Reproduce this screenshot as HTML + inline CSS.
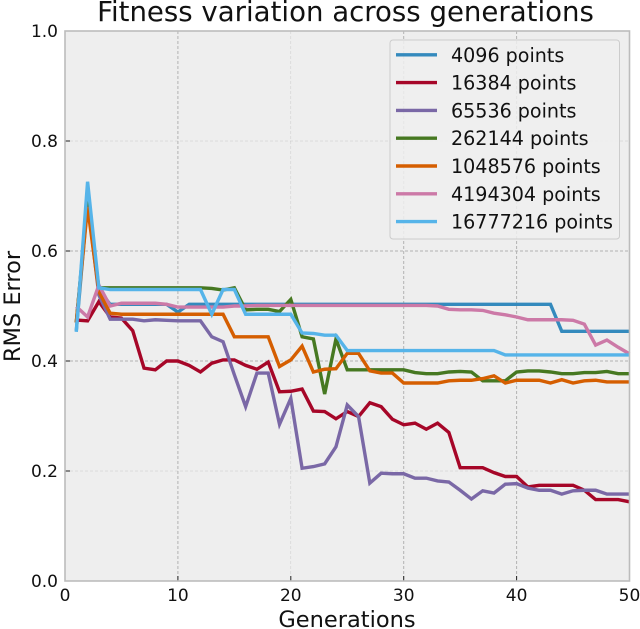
<!DOCTYPE html>
<html>
<head>
<meta charset="utf-8">
<title>Fitness variation across generations</title>
<style>
html,body{margin:0;padding:0;background:#fff;width:640px;height:629px;overflow:hidden}
svg{display:block}
text{font-family:"DejaVu Sans","Liberation Sans",sans-serif;fill:#111}
</style>
</head>
<body>
<svg id="chart" width="640" height="629" viewBox="0 0 640 629" xmlns="http://www.w3.org/2000/svg"></svg>
<script>
const generations = [1,2,3,4,5,6,7,8,9,10,11,12,13,14,15,16,17,18,19,20,21,22,23,24,25,26,27,28,29,30,31,32,33,34,35,36,37,38,39,40,41,42,43,44,45,46,47,48,49,50];
const seriesLabels = ['4096 points','16384 points','65536 points','262144 points','1048576 points','4194304 points','16777216 points'];
const xTicks = [0,10,20,30,40,50];
const yTicks = [0,0.2,0.4,0.6,0.8,1];
const yTickLabels = ['0.0','0.2','0.4','0.6','0.8','1.0'];
const s4096 = [.455,.69,.53,.503,.503,.503,.503,.503,.503,.489,.503,.503,.503,.503,.503,.503,.503,.503,.503,.503,.503,.503,.503,.503,.503,.503,.503,.503,.503,.503,.503,.503,.503,.503,.503,.503,.503,.503,.503,.503,.503,.503,.503,.454,.454,.454,.454,.454,.454,.454];
const s16384 = [.4745,.473,.508,.48,.478,.455,.387,.384,.40,.40,.392,.38,.396,.402,.402,.392,.385,.398,.344,.345,.349,.309,.308,.295,.308,.299,.324,.317,.294,.284,.287,.276,.287,.27,.206,.206,.206,.197,.19,.19,.171,.174,.174,.174,.174,.165,.148,.148,.148,.144];
const s65536 = [.47,.69,.52,.476,.476,.476,.473,.475,.474,.473,.473,.473,.444,.435,.375,.317,.378,.378,.285,.332,.205,.208,.213,.244,.32,.299,.178,.196,.195,.195,.187,.187,.182,.18,.165,.149,.164,.16,.176,.177,.169,.165,.165,.158,.164,.165,.165,.158,.158,.158];
const s262144 = [.47,.69,.533,.533,.533,.533,.533,.533,.533,.533,.533,.533,.532,.529,.533,.493,.494,.494,.49,.512,.444,.44,.34,.44,.384,.384,.384,.384,.384,.384,.379,.377,.377,.38,.381,.38,.364,.364,.364,.38,.382,.382,.38,.377,.377,.379,.379,.381,.377,.377];
const s1048576 = [.47,.68,.526,.487,.485,.485,.485,.485,.485,.485,.485,.485,.485,.485,.444,.444,.444,.444,.39,.402,.427,.38,.385,.386,.414,.414,.382,.378,.378,.36,.36,.36,.36,.364,.365,.365,.368,.373,.36,.365,.365,.365,.36,.366,.36,.364,.365,.362,.362,.362];
const s4194304 = [.499,.48,.538,.5,.505,.505,.505,.505,.503,.498,.498,.498,.498,.498,.5,.5,.501,.501,.501,.501,.501,.501,.501,.501,.501,.501,.501,.501,.501,.501,.501,.501,.5,.494,.493,.493,.492,.487,.484,.48,.475,.475,.475,.475,.474,.467,.429,.438,.425,.413];
const s16777216 = [.453,.726,.533,.53,.53,.53,.53,.53,.53,.53,.53,.53,.485,.53,.53,.485,.485,.485,.485,.485,.451,.45,.447,.447,.419,.419,.419,.419,.419,.419,.419,.419,.419,.419,.419,.419,.419,.419,.411,.411,.411,.411,.411,.411,.411,.411,.411,.411,.411,.411];
const allSeries = [s4096,s16384,s65536,s262144,s1048576,s4194304,s16777216];

const colors = ['#348ABD','#A60628','#7A68A6','#467821','#D55E00','#CC79A7','#56B4E9'];
const NS = 'http://www.w3.org/2000/svg';
const svg = document.getElementById('chart');
const plot = {l:65, r:629.5, t:31, b:581};
const xMax = 50, yMax = 1;
function xScale(v){ return plot.l + (plot.r - plot.l) * v / xMax; }
function yScale(v){ return plot.b - (plot.b - plot.t) * v / yMax; }
function mk(tag, attrs, parent){
  const el = document.createElementNS(NS, tag);
  for (const k in attrs) el.setAttribute(k, attrs[k]);
  (parent || svg).appendChild(el);
  return el;
}

// title
const title = mk('text', {x:345.5, y:21, 'text-anchor':'middle', 'font-size':'27.6'});


title.textContent = 'Fitness variation across generations';

// plot background
const bg = mk('rect', {x:plot.l, y:plot.t, width:plot.r-plot.l, height:plot.b-plot.t, fill:'#eeeeee'});



// vertical grid and x ticks
xTicks.forEach(function(t){
  const x = xScale(t);
  if (t > 0 && t < xMax) {
    const g = mk('line', {x1:x, x2:x, y1:plot.t, y2:plot.b, stroke:'#b2b2b2', 'stroke-width':t === 20 ? 0.5 : 1, 'stroke-dasharray':'3 2', opacity:t === 20 ? 0.6 : 1});
    
    
  }
  const tk = mk('line', {x1:x, x2:x, y1:plot.b-5, y2:plot.b, stroke:'#222', 'stroke-width':1});
  
  
  const lb = mk('text', {x:x, y:601, 'text-anchor':'middle', 'font-size':'17'});
  
  
  lb.textContent = String(t);
});

// horizontal grid and y ticks
yTicks.forEach(function(t, i){
  const y = yScale(t);
  if (t > 0 && t < yMax) {
    const faint = (i === 1 || i === 4);
    const g = mk('line', {x1:plot.l, x2:plot.r, y1:y, y2:y, stroke:'#b2b2b2', 'stroke-width':faint ? 0.5 : 1, 'stroke-dasharray':'3 2', opacity:faint ? 0.6 : 1});
    
    
  }
  const tk = mk('line', {x1:plot.l, x2:plot.l+5, y1:y, y2:y, stroke:'#222', 'stroke-width':1});
  
  
  const lb = mk('text', {x:58, y:y+6, 'text-anchor':'end', 'font-size':'17'});
  
  
  lb.textContent = yTickLabels[i];
});

// series lines
allSeries.forEach(function(vals, i){
  const pts = vals.map(function(v, j){ return xScale(generations[j]).toFixed(2) + ',' + yScale(v).toFixed(2); }).join(' ');
  const line = mk('polyline', {points:pts, fill:'none', stroke:colors[i], 'stroke-width':3.4, 'stroke-linejoin':'miter', 'stroke-miterlimit':4});
  
  
});

// spines
const frame = mk('rect', {x:plot.l, y:plot.t, width:plot.r-plot.l, height:plot.b-plot.t, fill:'none', stroke:'#bcbcbc', 'stroke-width':1.6});



// legend
const legend = mk('g', {});


const legendBox = mk('rect', {x:390, y:40, width:229.5, height:199, rx:3, ry:3, fill:'#eeeeee', 'fill-opacity':0.85, stroke:'#cccccc', 'stroke-width':1}, legend);


seriesLabels.forEach(function(label, i){
  const y = 54.8 + i * 27.8;
  const row = mk('g', {}, legend);
  
  
  const sw = mk('line', {x1:396, x2:437, y1:y, y2:y, stroke:colors[i], 'stroke-width':3.4}, row);
  
  
  const tx = mk('text', {x:451, y:y+7, 'font-size':'19.1'}, row);
  
  
  tx.textContent = label;
});

// axis titles
const xTitle = mk('text', {x:347, y:627, 'text-anchor':'middle', 'font-size':'22.5'});


xTitle.textContent = 'Generations';
const yTitle = mk('text', {x:0, y:0, 'text-anchor':'middle', 'font-size':'22.5', transform:'translate(20,306.5) rotate(-90)'});


yTitle.textContent = 'RMS Error';
</script>
</body>
</html>
